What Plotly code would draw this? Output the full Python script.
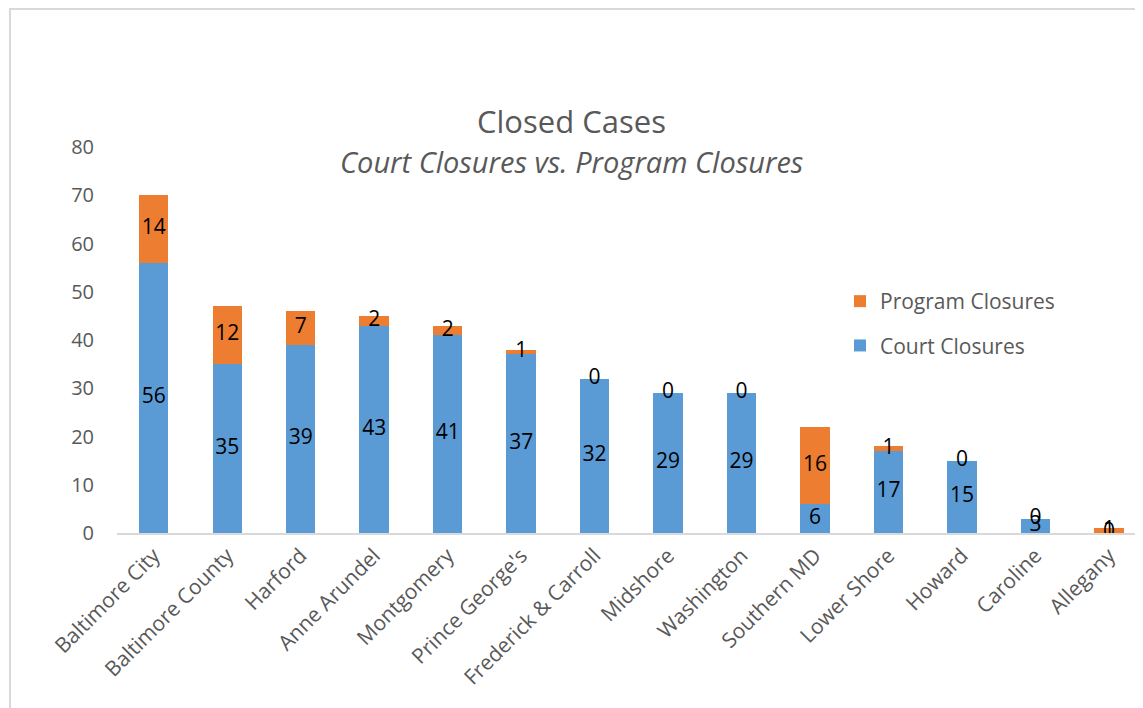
import plotly.graph_objects as go

categories = ["Baltimore City", "Baltimore County", "Harford", "Anne Arundel", "Montgomery",
              "Prince George's", "Frederick & Carroll", "Midshore", "Washington", "Southern MD",
              "Lower Shore", "Howard", "Caroline", "Allegany"]
court_closures = [56, 35, 39, 43, 41, 37, 32, 29, 29, 6, 17, 15, 3, 0]
program_closures = [14, 12, 7, 2, 2, 1, 0, 0, 0, 16, 1, 0, 0, 1]
y_ticks = [0, 10, 20, 30, 40, 50, 60, 70, 80]

BLUE = "#5B9BD5"
ORANGE = "#ED7D31"
GRAY = "#595959"
FONT = "Open Sans, Noto Sans, sans-serif"

fig = go.Figure()
fig.add_trace(go.Bar(x=categories, y=court_closures, name="Court Closures",
                     marker=dict(color=BLUE, line=dict(width=0)),
                     legendgroup="court", legendrank=2, hoverinfo="x+y+name"))
fig.add_trace(go.Bar(x=categories, y=program_closures, name="Program Closures",
                     marker=dict(color=ORANGE, line=dict(width=0)),
                     legendgroup="program", legendrank=1, hoverinfo="x+y+name"))

# data labels centred in each segment
court_mid = [c / 2 for c in court_closures]
prog_mid = [c + p / 2 for c, p in zip(court_closures, program_closures)]
fig.add_trace(go.Scatter(x=categories, y=court_mid, mode="text",
                         text=[str(v) for v in court_closures],
                         textfont=dict(size=21, color="#000000", family=FONT),
                         showlegend=False, hoverinfo="skip"))
fig.add_trace(go.Scatter(x=categories, y=prog_mid, mode="text",
                         text=[str(v) for v in program_closures],
                         textfont=dict(size=21, color="#000000", family=FONT),
                         showlegend=False, hoverinfo="skip"))

# page offset of the figure inside the html body
OFF = 8
W, H = 1143, 708
L, R, T, B = 109, 6, 139, 183
pw = W - L - R
ph = H - T - B

def px_x(sx):
    return (sx - OFF - L) / pw

def px_y(sy):
    return (H - B - (sy - OFF)) / ph

fig.update_layout(
    width=W, height=H,
    margin=dict(l=L, r=R, t=T, b=B, autoexpand=False),
    barmode="stack",
    bargap=0.6,
    plot_bgcolor="white",
    paper_bgcolor="white",
    font=dict(family=FONT, color=GRAY),
    showlegend=True,
    legend=dict(
        x=px_x(840), y=px_y(281), xanchor="left", yanchor="top",
        traceorder="grouped", tracegroupgap=14,
        font=dict(size=21, color=GRAY, family=FONT),
        itemwidth=30, bgcolor="rgba(0,0,0,0)",
    ),
    xaxis=dict(
        range=[-0.5, 13.49],
        tickangle=-45,
        tickfont=dict(size=21, color=GRAY, family=FONT),
        showline=True, linecolor="#D9D9D9", linewidth=2,
        showgrid=False, ticks="", zeroline=False,
        fixedrange=True,
    ),
    yaxis=dict(
        range=[0, 80],
        tickvals=y_ticks,
        tickfont=dict(size=20, color=GRAY, family=FONT),
        showgrid=False, showline=False, zeroline=False,
        ticks="outside", ticklen=18, tickcolor="rgba(0,0,0,0)",
        fixedrange=True,
    ),
    annotations=[
        dict(text="Closed Cases", xref="paper", yref="paper",
             x=px_x(571), y=px_y(121), xanchor="center", yanchor="middle",
             showarrow=False, font=dict(size=31, color=GRAY, family=FONT)),
        dict(text="<i>Court Closures vs. Program Closures</i>", xref="paper", yref="paper",
             x=px_x(571), y=px_y(161), xanchor="center", yanchor="middle",
             showarrow=False, font=dict(size=29, color=GRAY, family=FONT)),
    ],
    shapes=[
        dict(type="line", xref="paper", yref="paper",
             x0=px_x(9), x1=px_x(1170), y0=px_y(9), y1=px_y(9),
             line=dict(color="#D9D9D9", width=2)),
        dict(type="line", xref="paper", yref="paper",
             x0=px_x(10), x1=px_x(10), y0=px_y(9), y1=px_y(730),
             line=dict(color="#D9D9D9", width=2)),
    ],
)

fig.write_html("out.html")
